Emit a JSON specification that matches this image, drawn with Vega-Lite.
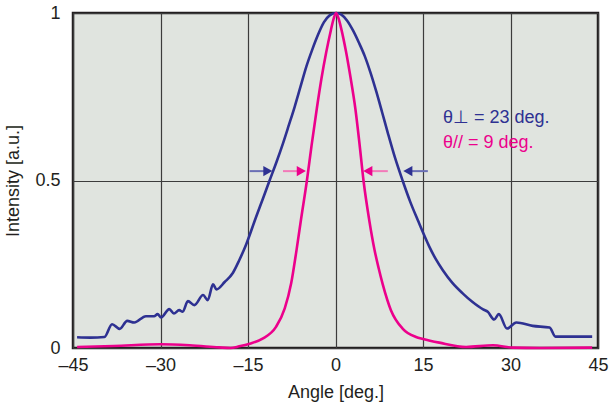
{
  "$schema": "https://vega.github.io/schema/vega-lite/v6.json",
  "width": 525,
  "height": 335,
  "autosize": {"type": "none"},
  "padding": {"left": 73, "top": 13, "right": 12, "bottom": 58},
  "config": {
    "view": {"fill": "#e0e4df", "stroke": "#231f20", "strokeWidth": 2.5},
    "font": "Liberation Sans",
    "axis": {"labelFont": "Liberation Sans", "titleFont": "Liberation Sans", "labelColor": "#231f20", "titleColor": "#231f20", "titleFontWeight": "normal", "labelFontSize": 18, "titleFontSize": 18, "ticks": false, "domain": false, "gridColor": "#3c3c3c", "gridWidth": 1.2, "gridOpacity": 1}
  },
  "datasets": {
    "curves": [
      {"x": -44.3, "y": 0.032, "s": "perp"}, {"x": -42, "y": 0.031, "s": "perp"}, {"x": -39.6, "y": 0.033, "s": "perp"},
      {"x": -38.3, "y": 0.071, "s": "perp"}, {"x": -37.0, "y": 0.057, "s": "perp"}, {"x": -35.7, "y": 0.081, "s": "perp"},
      {"x": -34.5, "y": 0.076, "s": "perp"}, {"x": -32.5, "y": 0.095, "s": "perp"}, {"x": -31.1, "y": 0.095, "s": "perp"},
      {"x": -30.5, "y": 0.101, "s": "perp"}, {"x": -29.9, "y": 0.091, "s": "perp"}, {"x": -28.5, "y": 0.116, "s": "perp"},
      {"x": -27.7, "y": 0.103, "s": "perp"}, {"x": -26.8, "y": 0.113, "s": "perp"}, {"x": -26.2, "y": 0.108, "s": "perp"},
      {"x": -25.3, "y": 0.140, "s": "perp"}, {"x": -24.2, "y": 0.128, "s": "perp"}, {"x": -22.7, "y": 0.158, "s": "perp"},
      {"x": -21.9, "y": 0.143, "s": "perp"}, {"x": -21.0, "y": 0.19, "s": "perp"}, {"x": -20.4, "y": 0.175, "s": "perp"},
      {"x": -19.0, "y": 0.197, "s": "perp"}, {"x": -17.6, "y": 0.224, "s": "perp"}, {"x": -16.5, "y": 0.262, "s": "perp"},
      {"x": -15.3, "y": 0.31, "s": "perp"}, {"x": -13.6, "y": 0.392, "s": "perp"}, {"x": -12.4, "y": 0.448, "s": "perp"},
      {"x": -11.3, "y": 0.50, "s": "perp"}, {"x": -10.1, "y": 0.556, "s": "perp"}, {"x": -9.0, "y": 0.611, "s": "perp"},
      {"x": -8.0, "y": 0.665, "s": "perp"}, {"x": -7.0, "y": 0.72, "s": "perp"}, {"x": -6.0, "y": 0.78, "s": "perp"},
      {"x": -5.0, "y": 0.84, "s": "perp"}, {"x": -4.0, "y": 0.89, "s": "perp"}, {"x": -3.0, "y": 0.935, "s": "perp"},
      {"x": -2.0, "y": 0.972, "s": "perp"}, {"x": -1.0, "y": 0.993, "s": "perp"}, {"x": 0.1, "y": 1.0, "s": "perp"},
      {"x": 1.0, "y": 0.995, "s": "perp"}, {"x": 2.0, "y": 0.977, "s": "perp"}, {"x": 3.0, "y": 0.948, "s": "perp"},
      {"x": 4.0, "y": 0.912, "s": "perp"}, {"x": 5.0, "y": 0.872, "s": "perp"}, {"x": 6.0, "y": 0.822, "s": "perp"},
      {"x": 7.0, "y": 0.765, "s": "perp"}, {"x": 8.0, "y": 0.703, "s": "perp"}, {"x": 9.0, "y": 0.64, "s": "perp"},
      {"x": 10.2, "y": 0.568, "s": "perp"}, {"x": 11.5, "y": 0.50, "s": "perp"}, {"x": 12.8, "y": 0.437, "s": "perp"},
      {"x": 14.1, "y": 0.382, "s": "perp"}, {"x": 16.1, "y": 0.302, "s": "perp"}, {"x": 17.2, "y": 0.265, "s": "perp"},
      {"x": 18.4, "y": 0.232, "s": "perp"}, {"x": 20.0, "y": 0.195, "s": "perp"},
      {"x": 21.8, "y": 0.163, "s": "perp"}, {"x": 23.5, "y": 0.137, "s": "perp"}, {"x": 25.3, "y": 0.115, "s": "perp"}, {"x": 26.1, "y": 0.108, "s": "perp"},
      {"x": 27.2, "y": 0.085, "s": "perp"}, {"x": 28.0, "y": 0.101, "s": "perp"}, {"x": 29.4, "y": 0.058, "s": "perp"},
      {"x": 31.0, "y": 0.076, "s": "perp"}, {"x": 33.8, "y": 0.066, "s": "perp"}, {"x": 36.7, "y": 0.061, "s": "perp"},
      {"x": 37.7, "y": 0.034, "s": "perp"}, {"x": 44.0, "y": 0.034, "s": "perp"},
      {"x": -44.3, "y": 0.003, "s": "par"}, {"x": -38, "y": 0.006, "s": "par"}, {"x": -30, "y": 0.011, "s": "par"},
      {"x": -25, "y": 0.008, "s": "par"}, {"x": -20, "y": 0.002, "s": "par"}, {"x": -18, "y": 0.0, "s": "par"},
      {"x": -16.5, "y": 0.005, "s": "par"}, {"x": -14.7, "y": 0.013, "s": "par"}, {"x": -12.5, "y": 0.028, "s": "par"},
      {"x": -10.2, "y": 0.063, "s": "par"}, {"x": -8.7, "y": 0.118, "s": "par"}, {"x": -7.6, "y": 0.193, "s": "par"},
      {"x": -6.7, "y": 0.29, "s": "par"}, {"x": -5.9, "y": 0.385, "s": "par"}, {"x": -4.9, "y": 0.50, "s": "par"},
      {"x": -4.1, "y": 0.605, "s": "par"}, {"x": -3.2, "y": 0.715, "s": "par"}, {"x": -2.4, "y": 0.805, "s": "par"},
      {"x": -1.6, "y": 0.882, "s": "par"}, {"x": -0.8, "y": 0.948, "s": "par"}, {"x": -0.3, "y": 0.984, "s": "par"},
      {"x": 0.1, "y": 1.0, "s": "par"}, {"x": 0.5, "y": 0.985, "s": "par"},
      {"x": 1.0, "y": 0.952, "s": "par"}, {"x": 1.8, "y": 0.885, "s": "par"}, {"x": 2.6, "y": 0.805, "s": "par"},
      {"x": 3.4, "y": 0.715, "s": "par"}, {"x": 4.1, "y": 0.612, "s": "par"}, {"x": 4.8, "y": 0.50, "s": "par"},
      {"x": 5.8, "y": 0.38, "s": "par"}, {"x": 6.7, "y": 0.292, "s": "par"}, {"x": 7.4, "y": 0.238, "s": "par"},
      {"x": 8.1, "y": 0.19, "s": "par"}, {"x": 9.5, "y": 0.113, "s": "par"}, {"x": 11.5, "y": 0.058, "s": "par"},
      {"x": 13.8, "y": 0.033, "s": "par"}, {"x": 15.0, "y": 0.027, "s": "par"}, {"x": 17.8, "y": 0.016, "s": "par"},
      {"x": 22.4, "y": 0.003, "s": "par"}, {"x": 27.0, "y": 0.008, "s": "par"}, {"x": 30.4, "y": 0.001, "s": "par"},
      {"x": 35.0, "y": 0.0, "s": "par"}, {"x": 44.0, "y": 0.001, "s": "par"}
    ],
    "tails": [
      {"x": -14.74, "x2": -11.6, "y": 0.528, "s": "perpTail"},
      {"x": -9.0, "x2": -5.86, "y": 0.528, "s": "parTail"},
      {"x": 5.54, "x2": 8.97, "y": 0.528, "s": "parTail"},
      {"x": 12.4, "x2": 15.83, "y": 0.528, "s": "perpTail"}
    ],
    "heads": [
      {"x": -11.6, "y": 0.528, "s": "perp", "d": "right"},
      {"x": -5.86, "y": 0.528, "s": "par", "d": "right"},
      {"x": 5.54, "y": 0.528, "s": "par", "d": "left"},
      {"x": 12.4, "y": 0.528, "s": "perp", "d": "left"}
    ],
    "notes": [
      {"x": 18.43, "y": 0.687, "s": "perp", "t": "θ⊥ = 23 deg."},
      {"x": 18.43, "y": 0.612, "s": "par", "t": "θ// = 9 deg."}
    ]
  },
  "encoding": {
    "x": {"field": "x", "type": "quantitative", "scale": {"domain": [-45, 45], "nice": false, "zero": false},
      "axis": {"values": [-45, -30, -15, 0, 15, 30, 45], "labelExpr": "datum.value < 0 ? '–' + abs(datum.value) : '' + datum.value", "labelFlush": false, "labelOverlap": false, "labelBound": false, "labelPadding": 8, "title": "Angle [deg.]", "titlePadding": 9, "grid": true}},
    "y": {"field": "y", "type": "quantitative", "scale": {"domain": [0, 1], "nice": false},
      "axis": {"values": [0, 0.5, 1], "format": "~g", "labelPadding": 13, "title": "Intensity [a.u.]", "titlePadding": 12, "grid": true, "labelFlush": false, "labelOverlap": false, "labelBound": false}},
    "color": {"field": "s", "type": "nominal", "scale": {"domain": ["perp", "par", "perpTail", "parTail"], "range": ["#2e3192", "#ec008c", "#6a6fb5", "#f27ab9"]}, "legend": null}
  },
  "layer": [
    {"data": {"name": "curves"}, "mark": {"type": "line", "strokeWidth": 2.6, "interpolate": "monotone"}},
    {"data": {"name": "tails"}, "mark": {"type": "rule", "strokeWidth": 2}, "encoding": {"x2": {"field": "x2"}}},
    {"data": {"name": "heads"}, "mark": {"type": "point", "filled": true, "opacity": 1, "size": 110},
      "encoding": {"shape": {"field": "d", "type": "nominal", "scale": {"domain": ["right", "left"], "range": ["triangle-right", "triangle-left"]}, "legend": null}}},
    {"data": {"name": "notes"}, "mark": {"type": "text", "align": "left", "baseline": "middle", "fontSize": 18, "font": "Liberation Sans"},
      "encoding": {"text": {"field": "t"}}}
  ]
}
